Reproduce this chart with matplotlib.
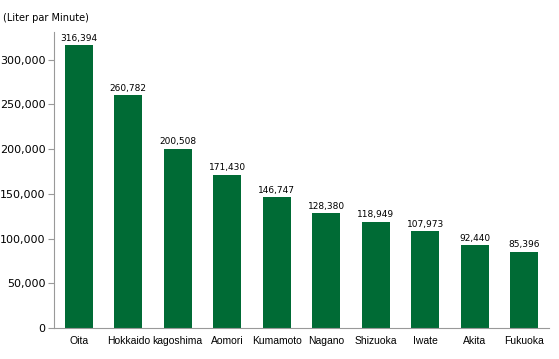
import matplotlib.pyplot as plt

prefectures = ['Oita', 'Hokkaido', 'kagoshima', 'Aomori', 'Kumamoto',
               'Nagano', 'Shizuoka', 'Iwate', 'Akita', 'Fukuoka']
flow = [316394, 260782, 200508, 171430, 146747,
        128380, 118949, 107973, 92440, 85396]
yticks = [0, 50000, 100000, 150000, 200000, 250000, 300000]

fig = plt.figure(figsize=(5.59, 3.59), dpi=100)
ax = fig.add_axes([54 / 559, 1 - 328 / 359, 495 / 559, 296 / 359])

x = range(len(prefectures))
ax.bar(x, flow, width=0.57, color='#006b35')
for i, v in zip(x, flow):
    ax.text(i, v + 2500, f'{v:,}', ha='center', va='bottom', fontsize=6.5)

ax.set_xlim(-0.5, len(prefectures) - 0.5)
ax.set_ylim(0, 331000)
ax.set_xticks(list(x))
ax.set_xticklabels(prefectures, fontsize=7.5, family='Liberation Sans')
ax.set_yticks(yticks)
ax.set_yticklabels([f'{t:,}' for t in yticks], fontsize=8)

for s in ['top', 'right']:
    ax.spines[s].set_visible(False)
for s in ['left', 'bottom']:
    ax.spines[s].set_color('#999999')
ax.tick_params(axis='x', length=0, pad=6)
ax.tick_params(axis='y', length=4, color='#999999', pad=2)

fig.text(3 / 559, 1 - 18 / 359, '(Liter par Minute)', fontsize=7, va='center')

fig.savefig('out.png', dpi=100)
